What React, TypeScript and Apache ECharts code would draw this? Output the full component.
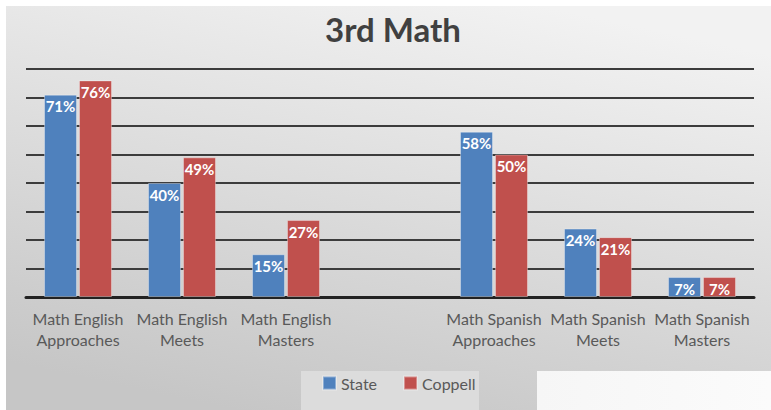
import React, { useEffect, useRef } from "react";
import * as echarts from "echarts";

const categories = [
  "Math English\nApproaches",
  "Math English\nMeets",
  "Math English\nMasters",
  "",
  "Math Spanish\nApproaches",
  "Math Spanish\nMeets",
  "Math Spanish\nMasters",
];
const stateValues: (number | null)[] = [71, 40, 15, null, 58, 24, 7];
const coppellValues: (number | null)[] = [76, 49, 27, null, 50, 21, 7];
const seriesNames = ["State", "Coppell"];
const titleText = "3rd Math";

const FONT = "Lato, 'Liberation Sans', sans-serif";

export default function App() {
  const ref = useRef<HTMLDivElement>(null);
  useEffect(() => {
    if (!ref.current) return;
    const chart = echarts.init(ref.current, null, { renderer: "svg" });
    const labelStyle = {
      show: true,
      position: "insideTop" as const,
      distance: 4,
      color: "#ffffff",
      fontWeight: "bold" as const,
      fontSize: 15,
      fontFamily: FONT,
      formatter: (p: any) => `${p.value}%`,
    };
    chart.setOption({
      animation: false,
      backgroundColor: "#ffffff",
      textStyle: { fontFamily: FONT },
      graphic: [
        {
          type: "rect",
          z: -10,
          silent: true,
          shape: { x: 6, y: 6, width: 765, height: 404 },
          style: {
            fill: new echarts.graphic.LinearGradient(0.3, 1, 0.7, 0, [
              { offset: 0, color: "#c6c6c6" },
              { offset: 0.5, color: "#dcdcdc" },
              { offset: 1, color: "#f2f2f2" },
            ]),
          },
        },
        {
          type: "rect",
          z: -9,
          silent: true,
          shape: { x: 301, y: 371, width: 178, height: 39 },
          style: { fill: "#dcdcdc" },
        },
        {
          type: "rect",
          z: -9,
          silent: true,
          shape: { x: 537, y: 371, width: 234, height: 39 },
          style: {
            fill: new echarts.graphic.LinearGradient(0, 0, 1, 0, [
              { offset: 0, color: "#f6f6f6" },
              { offset: 1, color: "#fbfbfb" },
            ]),
          },
        },
      ],
      title: {
        text: titleText,
        left: 388,
        top: 7,
        textAlign: "center",
        textStyle: {
          fontFamily: FONT,
          fontSize: 33,
          fontWeight: "bold",
          color: "#404040",
        },
      },
      legend: {
        data: seriesNames,
        left: 317,
        top: 370,
        itemWidth: 13,
        itemHeight: 13,
        itemGap: 26,
        icon: "rect",
        textStyle: { fontFamily: FONT, fontSize: 16, color: "#595959" },
      },
      grid: { left: 26, right: 17, top: 69, bottom: 113 },
      xAxis: {
        type: "category",
        data: categories,
        axisTick: { show: false },
        axisLine: { show: true, lineStyle: { color: "#222222", width: 3 } },
        axisLabel: {
          interval: 0,
          fontFamily: FONT,
          fontSize: 16,
          color: "#595959",
          lineHeight: 21,
          margin: 11,
        },
      },
      yAxis: {
        type: "value",
        min: 0,
        max: 80,
        interval: 10,
        axisLabel: { show: false },
        axisLine: { show: false },
        axisTick: { show: false },
        splitLine: { show: true, lineStyle: { color: "#3c3c3c", width: 2 } },
      },
      series: [
        {
          name: seriesNames[0],
          type: "bar",
          data: stateValues,
          barWidth: 33,
          barGap: "6%",
          itemStyle: { color: "#4f81bd", borderColor: "rgba(255,255,255,0.35)", borderWidth: 1 },
          label: labelStyle,
        },
        {
          name: seriesNames[1],
          type: "bar",
          data: coppellValues,
          barWidth: 33,
          barGap: "6%",
          itemStyle: { color: "#c0504d", borderColor: "rgba(255,255,255,0.35)", borderWidth: 1 },
          label: labelStyle,
        },
      ],
    });
    return () => chart.dispose();
  }, []);
  return (
    <div
      ref={ref}
      style={{ position: "absolute", left: 0, top: 0, width: 771, height: 410 }}
    />
  );
}
